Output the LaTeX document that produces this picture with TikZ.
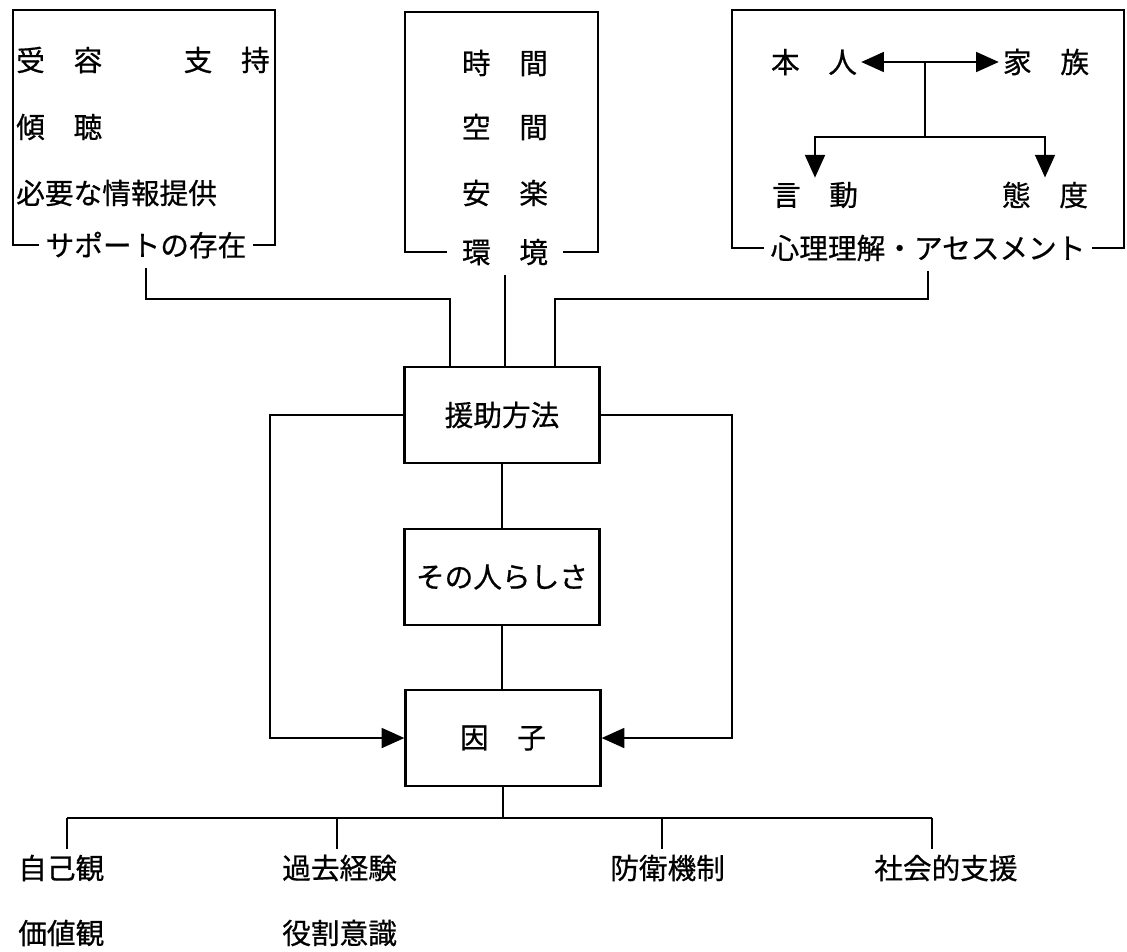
\documentclass[tikz,border=0pt]{standalone}
\usepackage{fontspec}
\newfontfamily\jp[FakeBold=0.6]{Noto Sans CJK JP}
\usetikzlibrary{arrows.meta,calc}
\begin{document}
\begin{tikzpicture}[x=0.75pt,y=-0.75pt,
  txt/.style={font=\jp\fontsize{21.5}{24}\selectfont, inner sep=3pt},
  lbl/.style={txt, inner xsep=5pt},
  frame/.style={line width=1.6pt},
  mbox/.style={txt, draw, line width=2pt, minimum width=146pt, minimum height=72pt},
  conn/.style={line width=1.3pt},
  arr/.style={conn, -{Triangle[length=17pt,width=15pt]}},
]
\useasboundingbox (0,0) rectangle (1127,951);

% top-left open box
\node[lbl] (sup) at (146,245) {サポートの存在};
\draw[frame] (sup.west) -| (13,10) -| (275,245) -- (sup.east);
\node[txt, anchor=west] (juyo) at (12,60) {受　容};
\node[txt, anchor=east] (shiji) at (274,60) {支　持};
\node[txt, anchor=west] (keicho) at (12,127) {傾　聴};
\node[txt, anchor=west] (joho) at (12,193) {必要な情報提供};

% top-middle open box
\node[lbl, inner xsep=11pt] (env) at (505,252) {環　境};
\draw[frame] (env.west) -| (405,12) -| (598,252) -- (env.east);
\node[txt] (jikan) at (505,63) {時　間};
\node[txt] (kukan) at (505,127) {空　間};
\node[txt] (anraku) at (505,193) {安　楽};

% top-right open box
\node[lbl] (psy) at (928,248) {心理理解・アセスメント};
\draw[frame] (psy.west) -| (732,10) -| (1124,248) -- (psy.east);
\node[txt] (honnin) at (814,62) {本　人};
\node[txt] (kazoku) at (1046,62) {家　族};
\node[txt] (gendo) at (815,195) {言　動};
\node[txt] (taido) at (1045,195) {態　度};
\coordinate (j1) at (925,62);
\coordinate (j2) at (925,137);
\draw[arr] (j1) -- (honnin.east);
\draw[arr] (j1) -- (kazoku.west);
\draw[conn] (j1) -- (j2);
\draw[arr] (j2) -| (gendo.north);
\draw[arr] (j2) -| (taido.north);

% center boxes
\node[mbox] (help) at (502,415) {援助方法};
\node[mbox] (self) at (502,577) {その人らしさ};
\node[mbox] (inf) at (503,738) {因　子};

\draw[conn, shorten <=4pt] (sup.south) |- ($(help.north)+(-52,-67)$) -- ($(help.north)+(-52,0)$);
\draw[conn, shorten <=4pt] (psy.south) |- ($(help.north)+(53,-67)$) -- ($(help.north)+(53,0)$);
\draw[conn, shorten <=4pt] (env.south) -- (env.south |- help.north);
\draw[conn] (help) -- (self);
\draw[conn] (self.south) -- (self.south |- inf.north);
\draw[arr] (help.west) -- ++(-133,0) |- (inf.west);
\draw[arr] (help.east) -- ++(131,0) |- (inf.east);

% bottom tree
\coordinate (b1) at (67,818);
\coordinate (b2) at (337,818);
\coordinate (b3) at (662,818);
\coordinate (b4) at (932,818);
\draw[conn] (inf.south) -- (inf.south |- b1);
\draw[conn] (b1) -- (b4);
\draw[conn] (b1) -- ++(0,31);
\draw[conn] (b2) -- ++(0,31);
\draw[conn] (b3) -- ++(0,31);
\draw[conn] (b4) -- ++(0,31);

\node[txt, anchor=west] (jiko) at (14,868) {自己観};
\node[txt, anchor=west] (kachi) at (14,933) {価値観};
\node[txt, anchor=west] (kako) at (278,868) {過去経験};
\node[txt, anchor=west] (yaku) at (278,933) {役割意識};
\node[txt, anchor=west] (bouei) at (606,868) {防衛機制};
\node[txt, anchor=west] (shakai) at (870,868) {社会的支援};
\end{tikzpicture}
\end{document}
